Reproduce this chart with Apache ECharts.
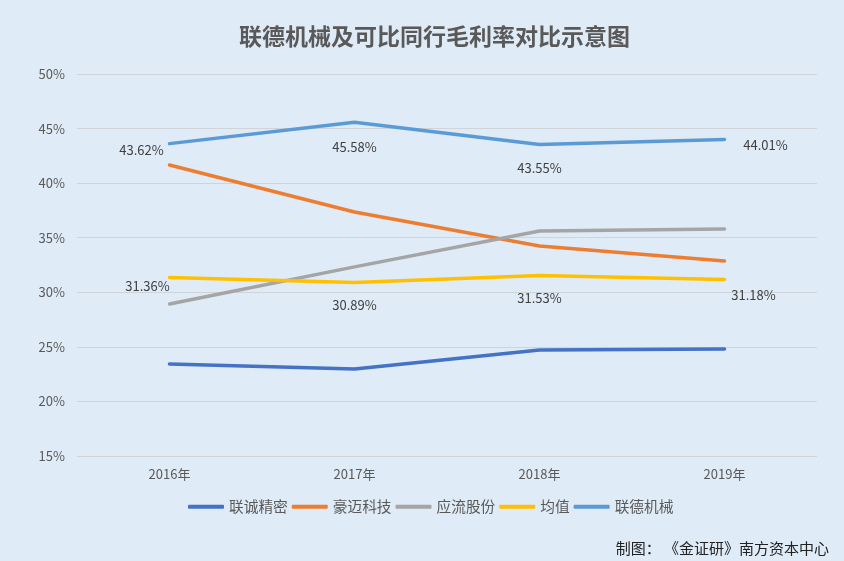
<!DOCTYPE html>
<html>
<head>
<meta charset="utf-8">
<script src="https://cdn.jsdelivr.net/npm/echarts@6/dist/echarts.min.js"></script>
<style>
  html, body { margin: 0; padding: 0; background: #dfebf6; }
  #chart { width: 844px; height: 561px; }
</style>
</head>
<body>
<div id="chart"></div>
<script>
// Data (percent)
const years = ['2016年', '2017年', '2018年', '2019年'];
const lianchengJingmi = [23.43, 22.97, 24.71, 24.80];
const haomaiKeji = [41.66, 37.36, 34.24, 32.87];
const yingliuGufen = [28.93, 32.33, 35.62, 35.80];
const junZhi = [31.36, 30.89, 31.53, 31.18];
const liandeJixie = [43.62, 45.58, 43.55, 44.01];

const font = '"Noto Sans CJK SC", "Microsoft YaHei", sans-serif';
const textGrey = '#595959';

// label placement per point, Excel-style
const blueLabelPos = [[-28, -5], [0, 13], [0, 12], [41, -6]];
const yellowLabelPos = [[-22, -3], [0, 11], [0, 11], [29, 4]];

function withLabels(values, offsets) {
    return values.map((v, i) => ({
        value: v,
        label: {
            show: true,
            position: 'bottom',
            offset: offsets[i],
            formatter: p => p.value.toFixed(2) + '%',
            color: '#404040',
            fontSize: 13,
            fontFamily: font
        }
    }));
}

function lineSeries(name, data, color) {
    return {
        name: name,
        type: 'line',
        data: data,
        symbol: 'circle',
        symbolSize: 0,
        showSymbol: true,
        lineStyle: { color: color, width: 3.5, cap: 'round' },
        itemStyle: { color: color },
        emphasis: { disabled: true }
    };
}

const chart = echarts.init(document.getElementById('chart'));

chart.setOption({
    backgroundColor: '#dfebf6',
    animation: false,
    textStyle: { fontFamily: font },
    title: {
        text: '联德机械及可比同行毛利率对比示意图',
        left: 234,
        top: 20,
        textStyle: { color: textGrey, fontSize: 23, fontWeight: 'bold', fontFamily: font }
    },
    grid: { left: 77, right: 27, top: 74, bottom: 105 },
    legend: {
        bottom: 42,
        left: 183,
        itemWidth: 36,
        itemHeight: 4,
        itemGap: 4,
        icon: 'roundRect',
        textStyle: { color: textGrey, fontSize: 14.7, fontFamily: font },
        data: ['联诚精密', '豪迈科技', '应流股份', '均值', '联德机械']
    },
    graphic: [{
        type: 'text',
        right: 15,
        bottom: 5,
        style: {
            text: '制图： 《金证研》南方资本中心',
            fill: '#222',
            fontSize: 15,
            fontFamily: font
        }
    }],
    xAxis: {
        type: 'category',
        data: years,
        boundaryGap: true,
        axisLine: { show: false },
        axisTick: { show: false },
        axisLabel: { color: textGrey, fontSize: 13, margin: 12 }
    },
    yAxis: {
        type: 'value',
        min: 15,
        max: 50,
        interval: 5,
        axisLine: { show: false },
        axisTick: { show: false },
        axisLabel: { color: textGrey, fontSize: 13, formatter: '{value}%', margin: 12 },
        splitLine: { lineStyle: { color: '#d0d4d8', width: 1 } }
    },
    series: [
        lineSeries('联诚精密', lianchengJingmi, '#4472c4'),
        lineSeries('豪迈科技', haomaiKeji, '#ed7d31'),
        lineSeries('应流股份', yingliuGufen, '#a5a5a5'),
        lineSeries('均值', withLabels(junZhi, yellowLabelPos), '#ffc000'),
        lineSeries('联德机械', withLabels(liandeJixie, blueLabelPos), '#5b9bd5')
    ]
});
</script>
</body>
</html>
